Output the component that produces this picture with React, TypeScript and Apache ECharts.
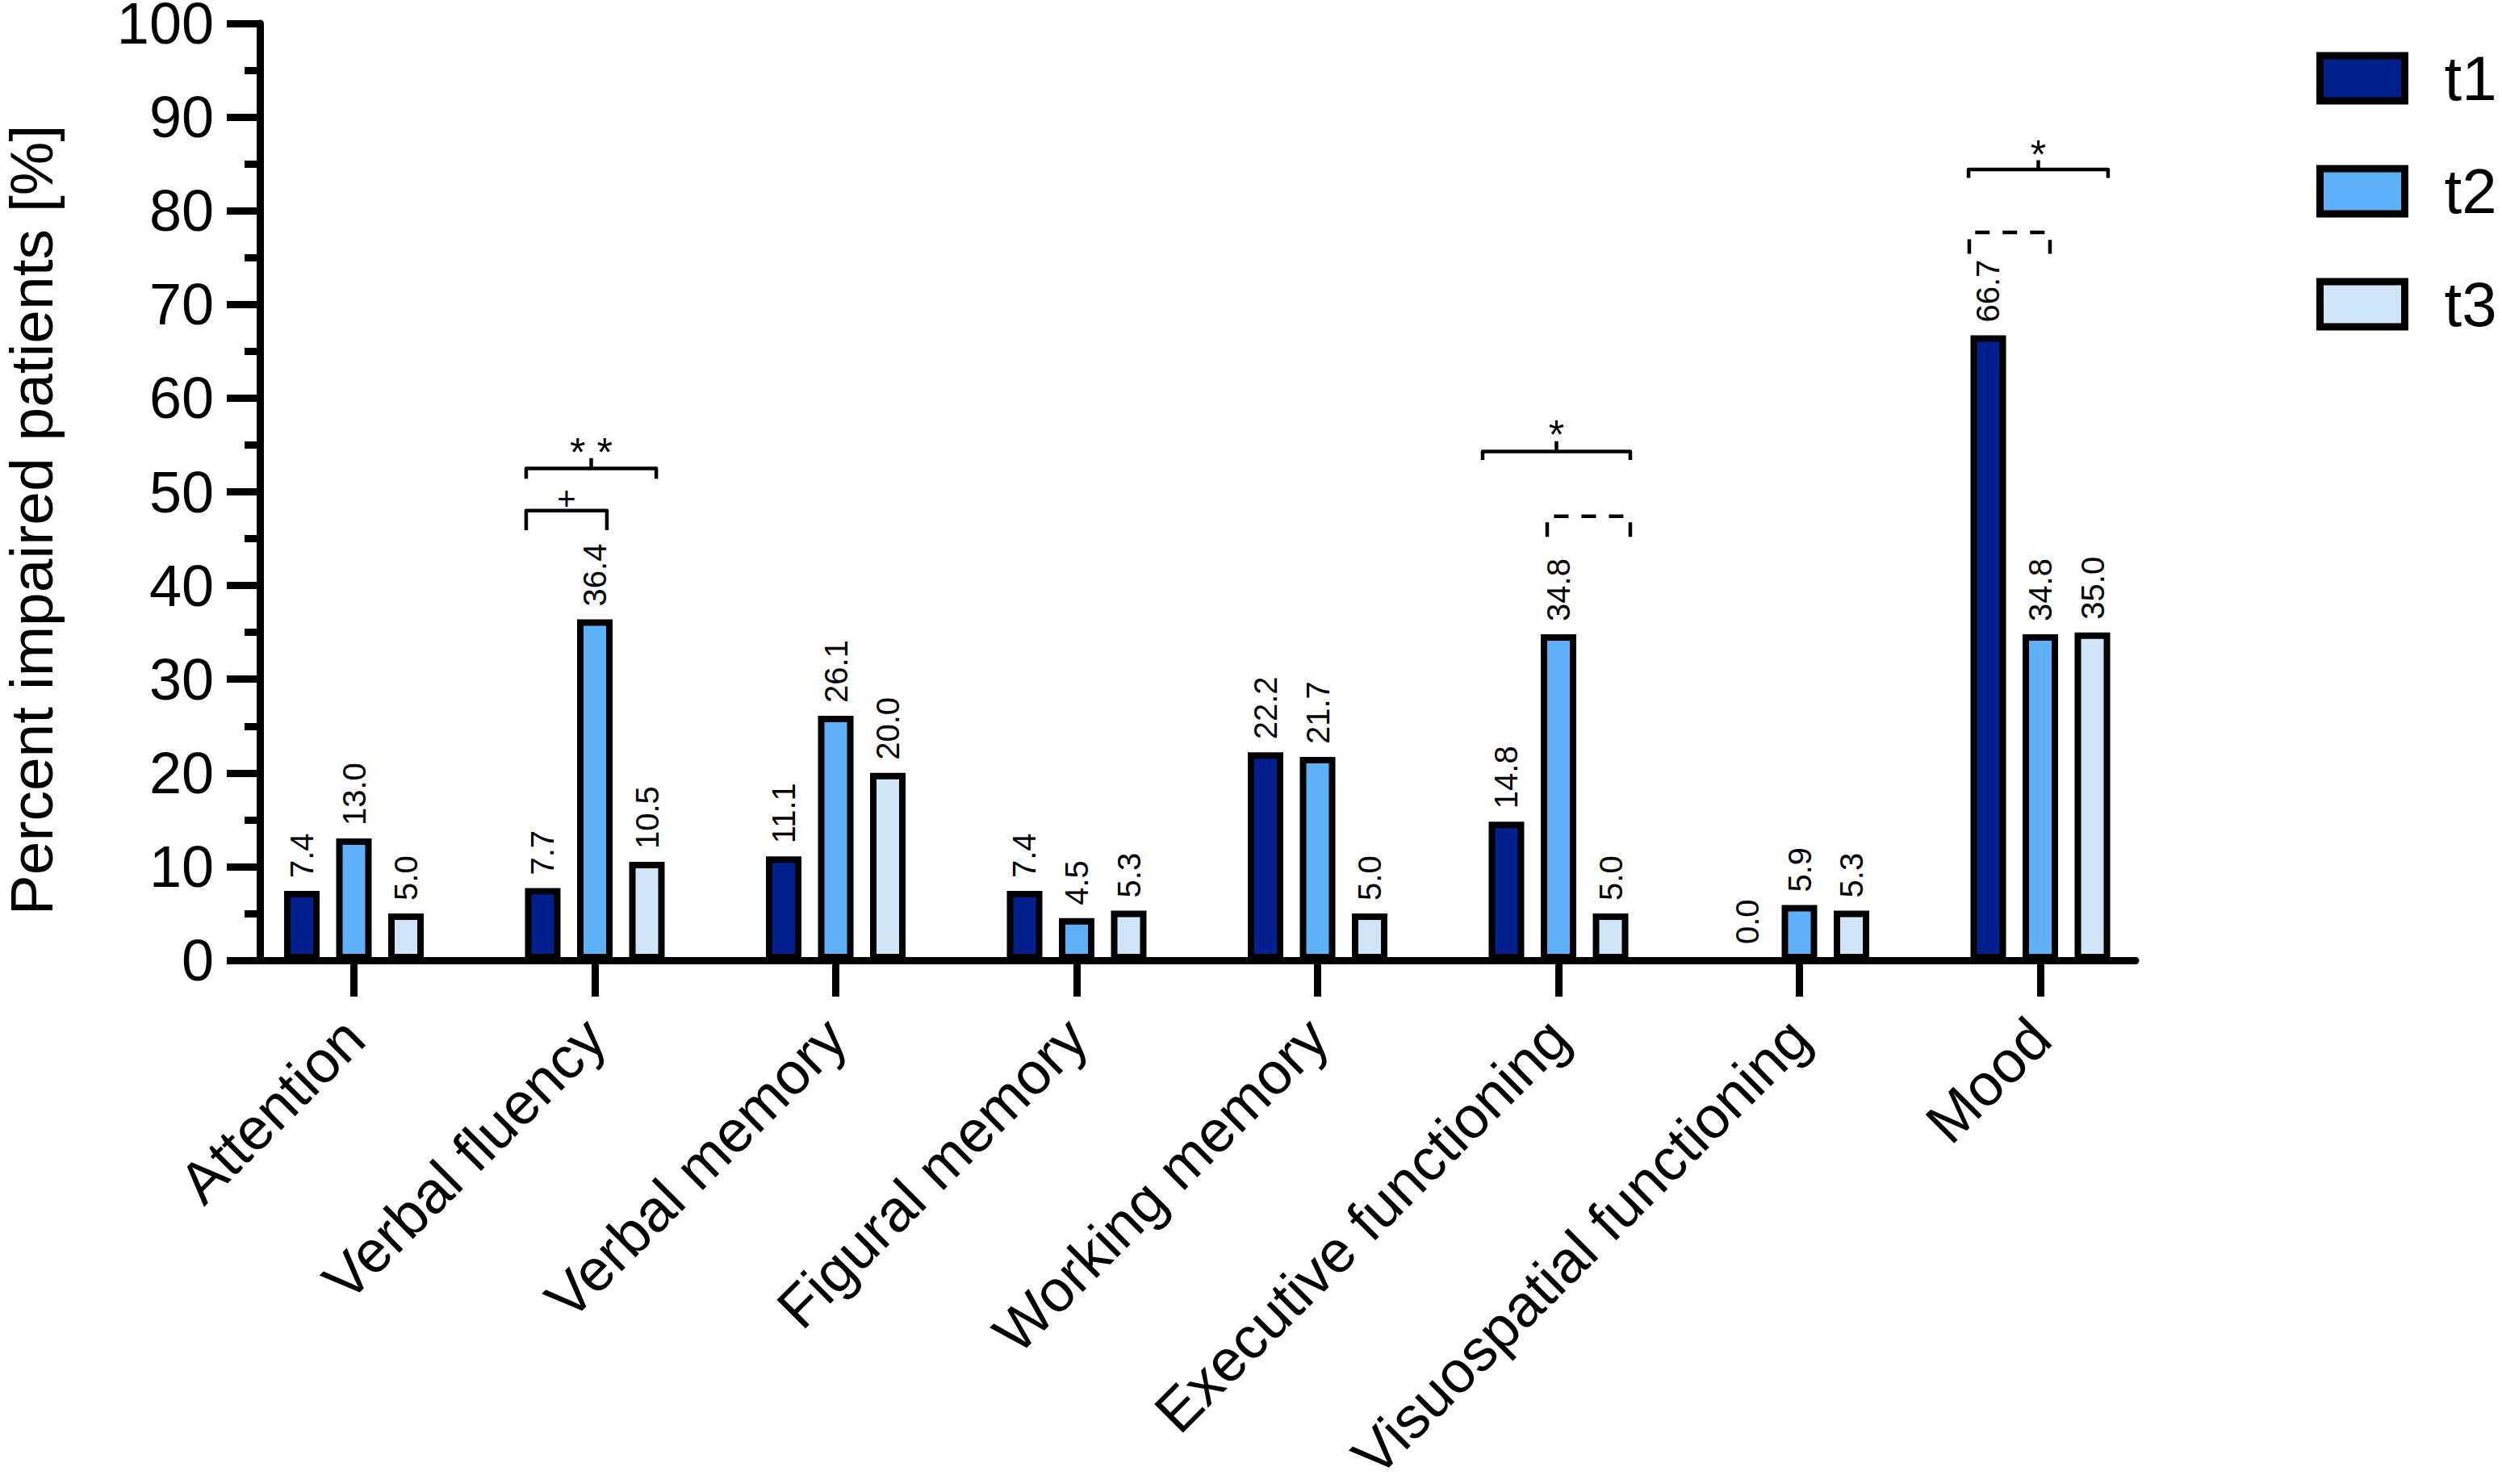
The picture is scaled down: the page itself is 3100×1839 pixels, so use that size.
import React, { useEffect, useRef } from "react";
import * as echarts from "echarts";

const categories = [
  "Attention",
  "Verbal fluency",
  "Verbal memory",
  "Figural memory",
  "Working memory",
  "Executive functioning",
  "Visuospatial functioning",
  "Mood",
];
const seriesNames = ["t1", "t2", "t3"];
const t1Values = [7.4, 7.7, 11.1, 7.4, 22.2, 14.8, 0.0, 66.7];
const t2Values = [13.0, 36.4, 26.1, 4.5, 21.7, 34.8, 5.9, 34.8];
const t3Values = [5.0, 10.5, 20.0, 5.3, 5.0, 5.0, 5.3, 35.0];
const yTicks = [0, 10, 20, 30, 40, 50, 60, 70, 80, 90, 100];
const yAxisTitle = "Percent impaired patients [%]";

// significance brackets: category index, span (band fractions), line value, leg ends, mark
const bracketCat = [1, 1, 5, 5, 7, 7];
const bracketFrom = [-0.285, -0.285, -0.315, -0.047, -0.298, -0.295];
const bracketTo = [0.05, 0.255, 0.298, 0.298, 0.281, 0.04];
const bracketLine = [48.0, 52.5, 54.3, 47.4, 84.4, 77.7];
const bracketLegL = [45.9, 51.4, 53.4, 45.2, 83.5, 75.4];
const bracketLegR = [45.9, 51.4, 53.4, 45.2, 83.5, 75.4];
const bracketMark = ["+", "* *", "*", "", "*", ""];
const bracketMarkY = [49.3, 54.2, 56.1, 0, 86.0, 0];
const bracketMarkSize = [40, 50, 50, 0, 50, 0];
const bracketTickTop = [0, 53.6, 55.4, 0, 85.4, 0];
const bracketDashed = [false, false, false, true, false, true];

const colors = ["#00208E", "#5EB1F9", "#D1E5F8"];
const FONT = "'Liberation Sans', Arial, sans-serif";

export default function App() {
  const ref = useRef<HTMLDivElement>(null);
  useEffect(() => {
    document.body.style.margin = "0";
    const chart = echarts.init(ref.current!, null, { renderer: "svg" });
    const values = [t1Values, t2Values, t3Values];
    const top = 29;
    const bottom = 1839 - 1190;
    const barSeries = seriesNames.map((name, i) => ({
      name,
      type: "bar",
      xAxisIndex: 1,
      yAxisIndex: 1,
      data: values[i],
      barWidth: 44,
      barGap: "46.6%",
      itemStyle: { color: colors[i], borderColor: "#000", borderWidth: 8 },
      label: {
        show: true,
        position: "top",
        rotate: 90,
        align: "left",
        verticalAlign: "middle",
        distance: 16,
        fontSize: 40,
        color: "#000",
        fontFamily: FONT,
        formatter: (p: any) => Number(p.value).toFixed(1),
      },
      z: 3,
    }));
    const bracketData = bracketCat.map((c, i) => [c, bracketLine[i], i]);
    const option: any = {
      animation: false,
      textStyle: { fontFamily: FONT },
      grid: [
        { left: 322, width: 2646 - 322, top, bottom, outerBoundsMode: "none", containLabel: false },
        { left: 289.25, width: 2388, top, bottom, outerBoundsMode: "none", containLabel: false },
      ],
      legend: {
        data: seriesNames,
        orient: "vertical",
        left: 2870,
        top: 58,
        padding: 0,
        itemWidth: 105,
        itemHeight: 56,
        itemGap: 62,
        icon: "rect",
        itemStyle: { borderColor: "#000", borderWidth: 9 },
        textStyle: { fontSize: 78, color: "#000", fontFamily: FONT, padding: [0, 0, 0, 44] },
      },
      xAxis: [
        {
          type: "value",
          gridIndex: 0,
          min: 0,
          max: 1,
          axisLine: { show: true, lineStyle: { color: "#000", width: 9 } },
          axisTick: { show: false },
          axisLabel: { show: false },
          splitLine: { show: false },
        },
        {
          type: "category",
          gridIndex: 1,
          data: categories,
          boundaryGap: true,
          axisLine: { show: false },
          axisTick: { show: true, alignWithLabel: true, length: 45, lineStyle: { color: "#000", width: 9 } },
          axisLabel: {
            rotate: 45,
            interval: 0,
            margin: 84,
            fontSize: 73,
            color: "#000",
            fontFamily: FONT,
          },
          splitLine: { show: false },
        },
      ],
      yAxis: [
        {
          type: "value",
          gridIndex: 0,
          min: yTicks[0],
          max: yTicks[yTicks.length - 1],
          interval: 10,
          name: yAxisTitle,
          nameLocation: "middle",
          nameGap: 246,
          nameTextStyle: { fontSize: 75, color: "#000", fontFamily: FONT, padding: [0, 70, 0, 0] },
          axisLine: { show: true, lineStyle: { color: "#000", width: 9 } },
          axisTick: { show: true, length: 41, lineStyle: { color: "#000", width: 9 } },
          minorTick: { show: true, splitNumber: 2, length: 19, lineStyle: { color: "#000", width: 9 } },
          axisLabel: { margin: 57, fontSize: 72, lineHeight: 56, color: "#000", fontFamily: FONT },
          splitLine: { show: false },
        },
        {
          type: "value",
          gridIndex: 1,
          min: 0,
          max: 100,
          show: false,
          splitLine: { show: false },
        },
      ],
      series: [
        ...barSeries,
        {
          type: "custom",
          xAxisIndex: 1,
          yAxisIndex: 1,
          data: bracketData,
          encode: { x: 0, y: 1 },
          clip: false,
          silent: true,
          z: 4,
          renderItem: (params: any, api: any) => {
            const i = params.dataIndex;
            const band = api.size([1, 0])[0];
            const c = api.coord([bracketCat[i], bracketLine[i]]);
            const x0 = c[0] + bracketFrom[i] * band;
            const x1 = c[0] + bracketTo[i] * band;
            const yL = c[1];
            const yl = api.coord([bracketCat[i], bracketLegL[i]])[1];
            const yr = api.coord([bracketCat[i], bracketLegR[i]])[1];
            const mid = (x0 + x1) / 2;
            const children: any[] = [
              {
                type: "polyline",
                shape: { points: [[x0, yl], [x0, yL], [x1, yL], [x1, yr]] },
                style: {
                  stroke: "#000",
                  lineWidth: 4.5,
                  fill: null,
                  lineDash: bracketDashed[i] ? [18, 16] : null,
                  lineJoin: "round",
                },
              },
            ];
            if (bracketTickTop[i] > 0) {
              const yt = api.coord([bracketCat[i], bracketTickTop[i]])[1];
              children.push({
                type: "line",
                shape: { x1: mid, y1: yL, x2: mid, y2: yt },
                style: { stroke: "#000", lineWidth: 4.5 },
              });
            }
            if (bracketMark[i]) {
              const ym = api.coord([bracketCat[i], bracketMarkY[i]])[1];
              children.push({
                type: "text",
                style: {
                  x: mid,
                  y: ym,
                  text: bracketMark[i],
                  fontSize: bracketMarkSize[i],
                  fontFamily: FONT,
                  fill: "#000",
                  align: "center",
                  verticalAlign: "middle",
                },
              });
            }
            return { type: "group", children };
          },
        },
      ],
    };
    chart.setOption(option);
    return () => chart.dispose();
  }, []);
  return <div ref={ref} style={{ width: 3100, height: 1839 }} />;
}
